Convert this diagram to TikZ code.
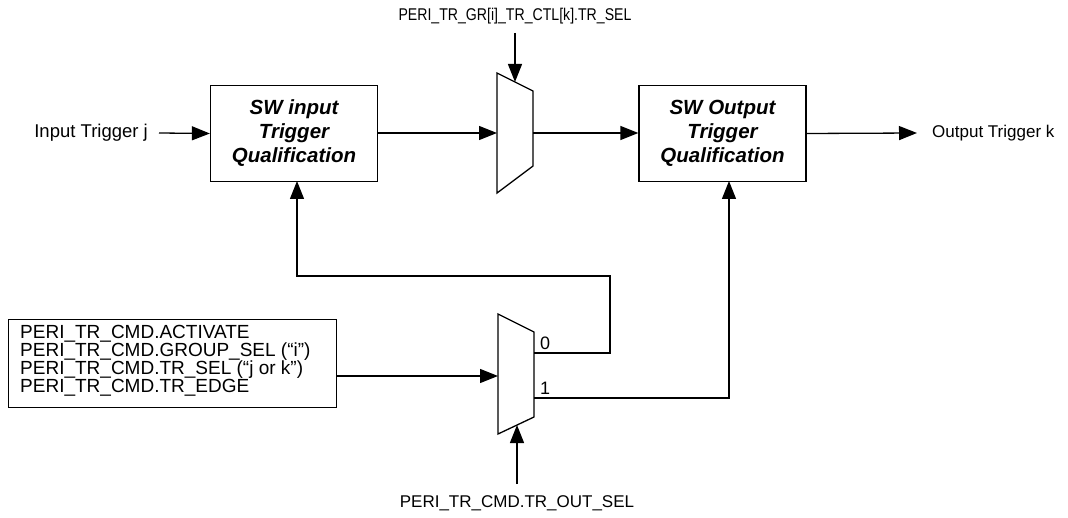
\documentclass[tikz,border=0pt]{standalone}
\usepackage{fontspec}
\usepackage{graphicx}
\setmainfont{Liberation Sans}
\usetikzlibrary{arrows.meta}
\begin{document}
\begin{tikzpicture}[x=1pt,y=-1pt,
  lbl/.style={font=\fontsize{17}{18}\selectfont, inner sep=0pt},
  qbox/.style={draw, line width=1.3pt, minimum width=167pt, minimum height=96pt, inner sep=0pt, align=center,
    font=\fontsize{20.5}{24}\selectfont\bfseries\itshape},
  arr/.style={line width=1.3pt, -{Triangle[length=18pt,width=14pt]}},
  muxs/.style={draw, line width=1.3pt, line join=miter}]
\useasboundingbox (0,0) rectangle (1068,518);

% top label
\node[lbl] (tsel) at (515,16) {\scalebox{0.83}[1]{PERI\_TR\_GR[i]\_TR\_CTL[k].TR\_SEL}};
% boxes
\node[qbox] (b1) at (294,133.5) {SW input\\Trigger\\Qualification};
\node[qbox] (b2) at (722.5,133.5) {SW Output\\Trigger\\Qualification};
% input/output labels
\node[lbl, anchor=east, font=\fontsize{18.5}{18}\selectfont] (inj) at (148,133) {Input Trigger j};
\node[lbl, anchor=west] (outk) at (932,133) {Output Trigger k};
\coordinate (injs) at (159,133);
\coordinate (outke) at (917,133);

% mux 1
\draw[muxs] (497,73) -- (533,91) -- (533,166) -- (497,193) -- cycle;
\coordinate (m1in) at (497,133);
\coordinate (m1out) at (533,133);
\coordinate (m1sel) at (515,82);
\coordinate (tsels) at (515,33);

% mux 2
\draw[muxs] (498,314) -- (534,332) -- (534,417) -- (498,434) -- cycle;
\coordinate (m2in) at (498,376);
\coordinate (m2o0) at (534,353);
\coordinate (m2o1) at (534,398);
\coordinate (m2sel) at (517,425);
\coordinate (bsels) at (517,484);
\node[lbl] (bsel) at (517,503) {PERI\_TR\_CMD.TR\_OUT\_SEL};
\node[lbl, anchor=south west, font=\fontsize{18}{18}\selectfont] (l0) at (540,350) {0};
\node[lbl, anchor=south west, font=\fontsize{18}{18}\selectfont] (l1) at (540,395) {1};

% command box
\node[draw, line width=1.3pt, minimum width=328pt, minimum height=88pt, anchor=north west,
  inner sep=0pt] (cmd) at (8,319) {};
\node[lbl, anchor=north west, align=left, font=\fontsize{19}{18}\selectfont] (cmdt) at (20,325)
  {PERI\_TR\_CMD.ACTIVATE\\PERI\_TR\_CMD.GROUP\_SEL (“i”)\\PERI\_TR\_CMD.TR\_SEL (“j or k”)\\PERI\_TR\_CMD.TR\_EDGE};

% connectors
\draw[arr] (injs) -- (b1.west);
\draw[arr] (b1.east |- m1in) -- (m1in);
\draw[arr] (m1out) -- (b2.west |- m1out);
\draw[arr] (b2.east) -- (outke);
\draw[arr] (tsels) -- (m1sel);
\draw[arr] (bsels) -- (m2sel);
\draw[arr] (cmd.east |- m2in) -- (m2in);
\draw[arr] (m2o0) -- (610,353) -- (610,276) -- (297,276) -- (297,181);
\draw[arr] (m2o1) -- (729,398) -- (729,181);
\end{tikzpicture}
\end{document}
